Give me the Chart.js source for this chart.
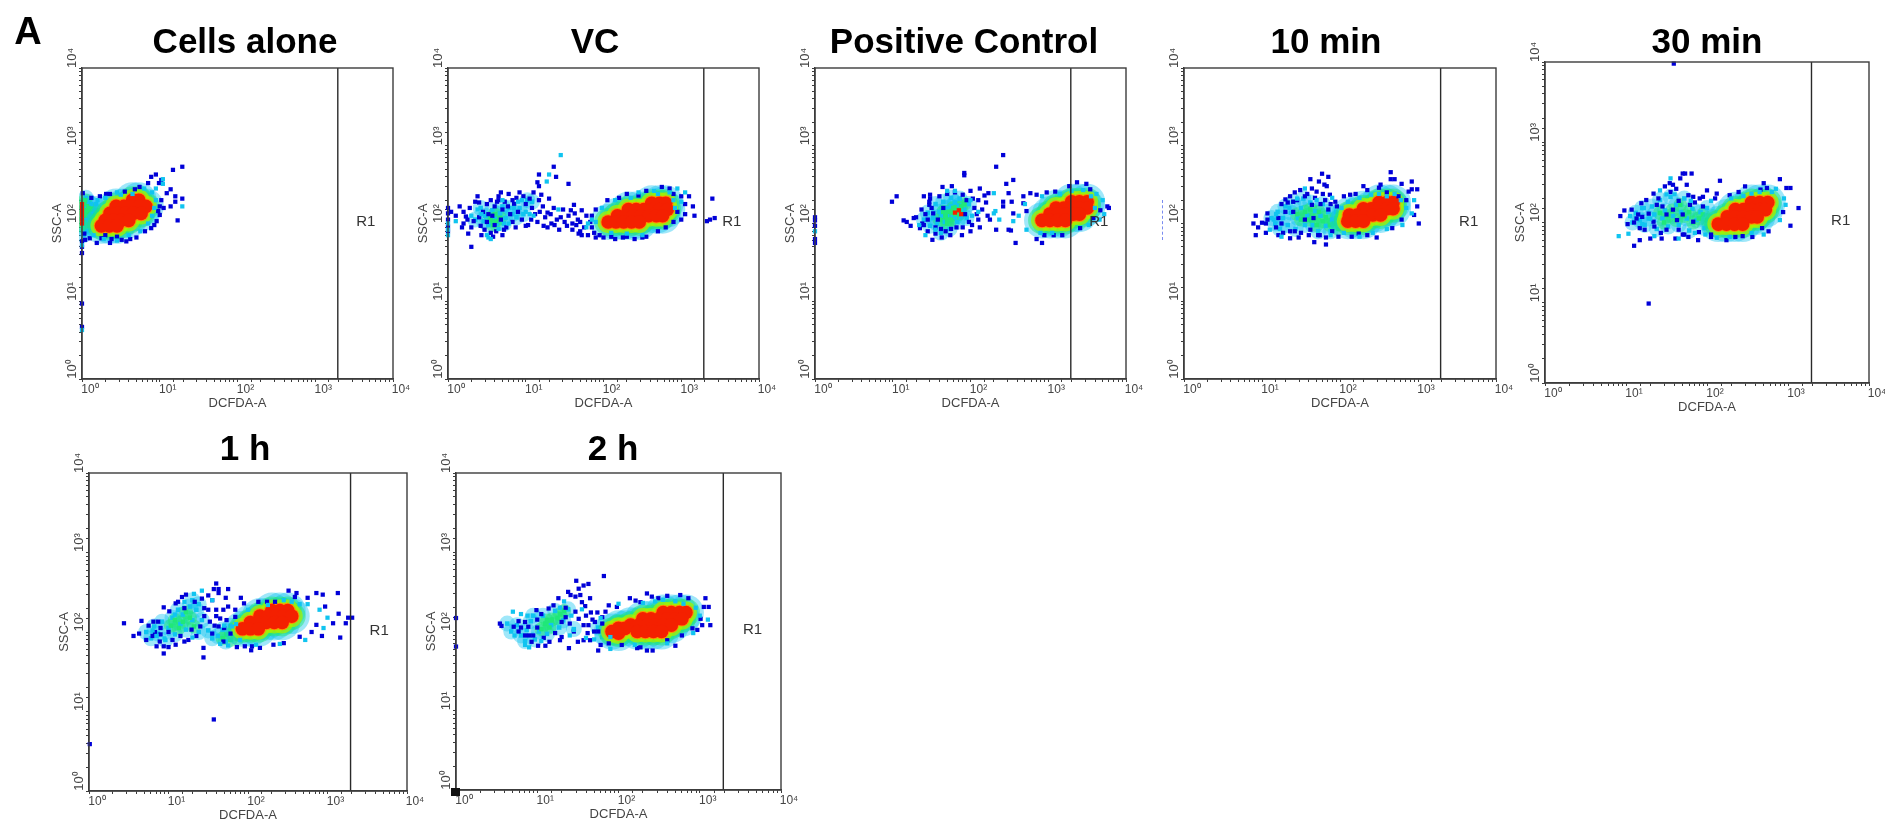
<!DOCTYPE html>
<html><head><meta charset="utf-8">
<script src="https://cdn.jsdelivr.net/npm/chart.js@4"></script>
<style>
html,body{margin:0;padding:0;background:#fff;}
#stage{position:relative;width:1885px;height:824px;overflow:hidden;background:#fff;filter:blur(.45px);}
canvas{position:absolute;}
.t{position:absolute;font:bold 35px "Liberation Sans",Arial,sans-serif;color:#000;transform:translate(-50%,-50%);white-space:nowrap;}
</style></head><body><div id="stage"></div>
<script>
const panelTitles=["Cells alone","VC","Positive Control","10 min","30 min","1 h","2 h"];
const decadeLabels=["10⁰","10¹","10²","10³","10⁴"];
const xAxisLabel="DCFDA-A", yAxisLabel="SSC-A", gateLabel="R1";
const gateDecade=3.29, gateLabelX=3.65, gateLabelY=2.02;

const cellsBlue=[1.29,2.73,1.17,2.69,.95,2.63,.89,2.6,.99,2.52,1.02,2.56,1.14,2.44,1.2,2.35,1.29,2.32,1.2,2.28,1.14,2.22,1.23,2.04,.04,1.79,.1,1.81,.19,1.75,.25,1.81,.36,1.75,.38,1.8,.51,1.79,.57,1.77,.7,1.82,.81,1.9,.89,1.94,.96,2.03,1,2.11,1,2.22,1.02,2.3,1.09,2.39,.01,2.39,.12,2.33,.23,2.35,.31,2.38,.36,2.38,.55,2.41,.68,2.44,.74,2.47,.85,2.52,0,1.77,0,1.7,0,1.62,0,.97,0,.67,.93,1.98,.98,2.16,.03,1.87,.3,1.85,.45,1.83,.62,1.8,1.05,2.2];
const cellsCyan=[1.29,2.22,1.04,2.51,1.04,2.57,.45,2.4,.95,2.45,.9,2.4,.8,2.45,.75,1.9,.85,2,.9,2.1,.95,2.3,.15,1.85,.28,1.8,.45,1.78,0,1.72,0,.63,.6,1.85,.2,2.3,.3,2.33,.5,2.37,.65,2.38,.93,2.2];
const cellsHazeCyan=[.02,1.85,.06,1.9,.05,2.05,.06,2.2,.05,2.33,.1,1.95,.12,2.25,.15,2.12,.17,1.92,.18,2.25,.08,2.28,.14,2.02];
const cellsHazeGreen=[.03,1.95,.03,2.02,.03,2.1,.03,2.17,.03,2.25,.08,2.1,.1,2.04,.12,2.18,.08,1.97,.08,2.2,.14,2.1,.15,2,.17,2.17,.04,2.3];
const cellsRed=[0,2,0,2.05,0,2.1,0,2.15,0,2.2,0,2.25];
const cellsCore=[.65,2.3,.73,2.3,.44,2.22,.54,2.22,.64,2.22,.74,2.22,.82,2.22,.36,2.13,.46,2.13,.56,2.13,.66,2.13,.76,2.13,.3,2.04,.4,2.04,.5,2.04,.6,2.04,.25,1.97,.35,1.97,.45,1.97];

const vcBlue=[0,2.2,0,2.13,0,2.05,0,1.96,0,1.9,.04,2.15,1.36,2.73,1.17,2.63,1.39,2.6,1.15,2.53,1.17,2.48,1.55,2.51,.3,1.7,.2,2.15,.2,2,.23,2.09,.3,1.95,.28,2.2,.33,2.03,.35,2.28,.4,2.27,.4,2.08,.42,1.97,.45,2.15,.47,1.92,.5,2.25,.5,2.02,.55,2.3,.55,1.88,.57,2.1,.6,1.98,.6,2.22,.62,1.9,.65,2.35,.65,2.3,.68,2.05,.7,1.85,.7,2.18,.73,2.28,.75,1.95,.78,2.38,.8,2.12,.83,2.02,.85,2.25,.88,2.33,.9,2.15,.95,2.05,.97,2.35,1,2.25,1.03,1.98,1.05,2.32,1.08,2.2,1.1,2.4,1.12,2.12,1.15,2.02,1.17,2.3,1.2,2.37,1.22,2.22,1.25,2.08,1.28,1.95,1.28,2.14,1.3,2.32,1.33,2,1.36,2.2,1.4,2.05,1.45,2.08,1.5,2.02,1.55,2.1,1.6,2,1.63,2.13,1.67,2.05,1.7,1.9,1.72,2.17,1.78,2.1,1.6,1.92,1.65,1.98,1.7,2.02,1.72,1.85,1.8,1.85,1.85,1.95,1.85,2.1,1.9,2.18,1.9,1.82,1.95,1.85,2,1.82,2.05,2.3,2.1,1.83,2.15,1.8,2.2,2.33,2.25,1.82,2.3,1.83,2.3,2.38,2.4,1.8,2.45,2.36,2.5,1.82,2.55,2.42,2.55,1.83,2.7,1.9,2.75,2.47,2.8,1.95,2.85,2.45,2.9,2.02,2.9,2.38,2.95,2.15,3,2.35,3,2.05,3.05,2.25,3.05,2.12,3.1,2.35,3.15,2.22,3.17,2.1,3.4,2.32,3.43,2.07,3.33,2.03,3.37,2.05,.1,2.1,.15,2.22,.18,1.95,.25,2.05,.26,1.87,.38,2.35,.43,1.85,.52,2.12,.58,1.83,.63,2.28,.68,2.4,.72,1.92,.77,2.22,.83,2.3,.87,1.95,.92,2.4,1,1.97,1.07,2.05,1.18,2.15,1.23,1.97,1.32,2.12,1.37,1.98,1.43,1.92,1.48,2.18,1.53,1.97,1.58,2.17,1.62,2.24,1.68,1.87,1.75,1.95,1.83,2.02,1.88,1.88];
const vcCyan=[1.45,2.88,1.3,2.63,1.27,2.54,0,2,0,1.92,0,1.85,.1,2.03,.3,2.1,.38,2.18,.43,2.12,.5,1.85,.52,1.82,.55,1.8,.65,1.93,.7,2.3,.78,2,.85,2.2,.9,2.28,.95,2.3,1,2.15,1.05,2.12,1.1,2.1,1.42,2.18,1.8,2,1.85,2.05,1.9,2.02,1.78,1.95,2.5,1.85,2.3,1.87,2.9,2.3,2.95,2.45,3,2.28,3.05,2.4,2.85,2.4,2.65,2.42,2.45,2.4,2.7,2.38,2.35,2.33,2.15,2.3,1.98,2.2,2.1,1.88,2.92,2.2];
const vcHazeCyan=[.35,2.05,.42,2.2,.48,2.1,.52,1.98,.57,2.17,.63,2,.67,2.13,.7,2.22,.74,2.07,.79,2.2,.83,2.12,.88,2.08,.92,2.2,.97,2.12,1.02,2.3,1.08,2.28,.6,2.08,.46,2.03,.72,2];
const vcHazeGreen=[.55,2.05,.6,2.12,.62,2.03,.67,2.07,.58,1.98];
const vcRed=[];
const vcCore=[2.62,2.26,2.72,2.26,2.8,2.26,2.32,2.18,2.42,2.18,2.52,2.18,2.62,2.18,2.72,2.18,2.82,2.18,2.18,2.1,2.28,2.1,2.38,2.1,2.48,2.1,2.58,2.1,2.68,2.1,2.76,2.1,2.06,2.02,2.16,2.02,2.26,2.02,2.36,2.02,2.46,2.02];

const posBlue=[2.42,2.88,2.33,2.73,1.92,2.65,1.92,2.62,2.55,2.56,2.46,2.51,1.05,2.35,.99,2.28,1.64,2.47,1.76,2.48,1.4,2.35,1.48,2.37,1.48,2.32,1.14,2.04,1.18,2.02,1.23,1.97,1.27,2.07,1.37,2.18,1.35,1.94,1.51,1.79,1.63,1.82,1.74,1.85,1.89,1.85,1.4,1.98,1.47,2.28,1.47,2.24,2.12,2.45,2.23,2.39,2.25,2.05,2.33,1.92,2.42,2.28,2.42,2.22,2.49,2.39,2.53,2.28,2.55,2.13,2.49,1.92,2.52,1.91,2.58,1.75,2.68,2.35,2.77,2.39,2.68,2.26,2.72,2.16,2.85,2.37,2.98,2.4,2.85,1.8,2.92,1.75,3.09,2.41,3.27,2.48,3.37,2.53,3.49,2.51,3.54,2.44,3.76,2.22,3.67,2.17,3.78,2.2,3.41,1.94,3.18,1.85,3.07,1.85,2.95,1.85,3.58,2.07,0,2.08,0,2.04,0,1.8,0,1.75,0,1.97,1.45,2.05,1.5,2.2,1.55,1.95,1.6,2.35,1.62,1.93,1.7,2.38,1.75,1.93,1.8,2.4,1.9,2.37,1.95,2.3,2,2.42,2.02,1.98,2.05,2.2,2.1,2.3,2.1,2.05,2.15,2.18,2.18,2.36,2.2,2.27,2.22,2.1,1.42,2.12,1.3,2.08,1.38,2,1.45,1.9,1.55,1.87,1.9,1.95,2,1.9,2.12,1.95,1.52,2.13,1.58,2.05,1.65,2.2,1.68,1.9,1.82,1.95,1.93,2.12,1.98,2.02,2.03,2.32,2.08,2.12];
const posCyan=[2.3,2.39,1.8,2.42,1.7,2.42,0,1.9,1.34,1.98,1.42,1.85,1.55,1.92,2.3,2.13,2.37,2.05,2.32,2.16,2.02,2.1,2,2.3,2.1,2.15,2.55,2.03,2.72,1.92,2.9,1.88,3.05,1.88,3.3,2.42,3.55,2.35,3.62,2.38,3.7,2.3,3.72,2.12,3.66,2.05,2.62,2.1,2.7,2.25,2.92,2.35,3.15,2.38,3.45,2.43,3.6,2.2,3.52,1.98];
const posHazeCyan=[1.4,2.05,1.45,2.14,1.48,1.97,1.52,2.07,1.55,2.25,1.57,2,1.6,2.15,1.62,1.88,1.65,2.28,1.67,2.02,1.7,2.2,1.73,1.93,1.75,2.33,1.77,2.1,1.8,2.27,1.83,2.02,1.86,2.32,1.88,2.08,1.92,2.18,1.95,2.07,1.98,2.25,1.62,2.1,1.7,2.1,1.8,2.08,1.85,2.23,1.75,2.22];
const posHazeGreen=[1.6,2.05,1.65,2.15,1.7,2.05,1.72,2.15,1.75,2.05,1.78,2.2,1.8,2.12,1.83,2.18,1.85,2.12,1.88,2.22,1.7,2,1.92,2.25,1.77,2.14,1.68,2.1];
const posRed=[1.85,2.17,1.8,2.14,1.88,2.12];
const posCore=[3.3,2.28,3.4,2.28,3.5,2.28,3.1,2.2,3.2,2.2,3.3,2.2,3.4,2.2,3.5,2.2,3.02,2.12,3.12,2.12,3.22,2.12,3.32,2.12,3.4,2.12,2.92,2.04,3.02,2.04,3.12,2.04,3.22,2.04];

const tenBlue=[2.65,2.66,2.65,2.57,2.7,2.57,2.79,2.51,2.92,2.54,2.92,2.44,2.99,2.44,2.88,2.41,2.52,2.5,2.5,2.46,2.3,2.48,2.35,2.43,2.2,2.38,2.13,2.37,3.01,2,2.95,2.11,2.99,2.22,2.79,2.05,2.67,1.94,2.47,1.82,2.35,1.85,2.24,1.87,2.15,1.83,1.98,1.83,1.82,1.73,1.82,1.82,1.67,1.76,1.47,1.82,1.36,1.9,1.36,1.81,1.21,1.85,.92,1.85,1.05,1.88,.89,2,1,2.01,.92,2.1,1.07,2.13,1.07,2.05,1.21,2.07,1.3,2.31,1.36,2.35,1.42,2.4,1.49,2.43,1.62,2.57,1.73,2.54,1.77,2.64,1.85,2.6,1.8,2.5,1.83,2.48,1.64,2.45,1.7,2.41,1.81,2.3,1.94,2.28,1.96,2.22,1.87,2.37,1.64,2.24,1.66,2.07,1.62,1.92,1.74,1.85,1.42,1.9,1.25,2,1.3,2.15,1.4,2.28,1.55,2.35,1.75,2.25,1.85,2.18,1.6,1.85,1.9,1.9,2.05,2.35,2.6,2.4,2.75,2.35,2.85,2.3,1.18,1.95,1.27,1.88,1.33,2.27,1.45,2.3,1.5,1.88,1.58,2.38,1.68,2.33,1.72,1.85,1.78,2.38,1.88,2.25,1.55,2.05,1.25,2.25,1.4,2.15,1.05,2,.95,1.95];
const tenCyan=[1.15,2.05,1.18,2.12,1.25,1.83,1.1,1.92,1.55,2.45,1.45,2.32,1.35,2.2,1.7,2.3,1.9,2.33,2.25,2.33,2.4,2.37,2.6,2.35,2.85,2.2,2.95,2.3,2.92,2.13,2.8,1.98,2.6,1.93,2.05,1.88,2.25,1.83,1.88,1.85,2.7,2.38,2.78,2.3,2.5,2.38,2.42,1.88,2.1,2.28,2.02,2.2];
const tenHazeCyan=[1.12,2.07,1.17,2,1.2,2.15,1.23,1.93,1.27,2.07,1.3,2.22,1.33,1.98,1.37,2.14,1.4,2.28,1.43,1.93,1.46,2.07,1.5,2.2,1.53,2.32,1.55,1.98,1.58,2.1,1.62,2.27,1.65,1.98,1.68,2.16,1.72,1.9,1.75,2.1,1.78,2.25,1.82,1.97,1.85,2.15,1.88,1.9,1.9,2.05,1.95,2.15];
const tenHazeGreen=[1.45,2.12,1.5,2.05,1.55,2.15,1.6,2.05,1.62,2.18,1.67,2.07,1.7,1.98,1.73,2.15,1.78,2.03,1.82,2.08,1.87,1.98,1.92,2,1.95,2.07,1.98,1.93];
const tenRed=[];
const tenCore=[2.5,2.27,2.6,2.27,2.68,2.27,2.3,2.19,2.4,2.19,2.5,2.19,2.6,2.19,2.68,2.19,2.12,2.11,2.22,2.11,2.32,2.11,2.42,2.11,2.52,2.11,2.1,2.03,2.2,2.03,2.3,2.03];

const thirtyBlue=[1.59,3.98,1.28,.99,1.7,2.61,1.73,2.61,1.81,2.61,1.67,2.55,2.16,2.52,2.47,2.45,2.7,2.49,2.9,2.54,2.66,2.41,2.74,2.43,2.98,2.43,3.03,2.43,2.39,2.38,2.28,2.34,2.12,2.36,2,2.4,3.13,2.18,3.03,1.96,2.94,2.13,2.76,1.89,2.68,1.93,2.56,1.82,2.44,1.83,2.35,1.82,2.24,1.78,1.89,1.78,1.77,1.82,1.61,1.8,1.44,1.8,1.3,1.8,1.1,1.71,1.17,1.78,.93,2.08,.98,2.15,1.07,2.16,1.13,2.05,1.19,2.24,1.25,2.28,1.34,2.36,1.48,2.45,1.54,2.49,1.58,2.47,1.75,2.47,1.77,2.34,1.83,2.32,1.91,2.3,1.79,2.22,1.58,2.16,1.63,2.03,1.28,2.11,1.34,2.01,1.17,1.93,1.23,1.91,1.83,2.01,1.65,1.91,1.5,1.91,1.4,2.3,1.15,2.1,1.1,2,1.45,2.2,1.7,2.1,1.95,2.2,1.72,1.85,1.9,1.88,2.05,1.82,2.1,2.3,1.2,2.07,1.38,2.22,1.43,1.87,1.55,2.38,1.62,2.42,1.7,1.85,1.85,2.25,1.95,2.32,2.05,1.85,1.5,2.1,1.35,1.95,1.02,1.98,1.65,2.27];
const thirtyCyan=[.91,1.83,1.03,1.86,1.2,1.98,1.22,2.18,1.3,2.05,1.35,1.83,1.5,2.35,1.55,2.55,1.42,2.4,1.6,2.35,1.8,2.27,2.05,2.27,2.3,2.3,2.55,2.36,2.85,2.42,2.95,2.3,2.97,2.22,2.9,2.03,2.7,1.85,2.28,1.82,2.12,1.81,1.05,2.08,1.65,1.8,1.85,1.87,2.65,2.38,2.8,2.38,2.45,2.33,2.55,1.87,1.98,1.85];
const thirtyHazeCyan=[1.08,2,1.12,2.12,1.17,2.03,1.2,2.18,1.23,1.97,1.28,2.05,1.32,2.2,1.35,2.1,1.38,1.92,1.42,2.28,1.45,2.05,1.48,2.15,1.52,1.95,1.55,2.32,1.58,2.08,1.62,2.22,1.65,1.97,1.68,2.13,1.72,2.3,1.75,2.05,1.78,1.9,1.82,2.17,1.87,2.03,1.92,2.13,1.97,1.93,2,2.18];
const thirtyHazeGreen=[1.42,2.12,1.47,2,1.52,2.08,1.57,2.15,1.62,2.03,1.67,2.22,1.72,2.08,1.78,2.13,1.83,2,1.9,2.05,1.95,2.1,2,2.03,2.02,1.95,2.07,2.08,2.05,2];
const thirtyRed=[];
const thirtyCore=[2.55,2.25,2.65,2.25,2.75,2.25,2.35,2.16,2.45,2.16,2.55,2.16,2.65,2.16,2.72,2.16,2.25,2.07,2.35,2.07,2.45,2.07,2.55,2.07,2.62,2.07,2.14,1.98,2.24,1.98,2.34,1.98,2.44,1.98];

const oneBlue=[.44,2.11,.66,2.14,.63,1.98,.56,1.95,.75,2.08,.81,2.13,.87,2.13,.83,2,.89,1.88,.85,1.82,.94,1.73,.94,1.82,1,1.81,1.09,1.84,1.25,1.9,1.44,1.8,1.44,1.68,.94,2.31,1.01,2.26,1.09,2.36,1.17,2.44,1.22,2.47,1.33,2.38,1.42,2.42,1.5,2.46,1.6,2.61,1.57,2.54,1.63,2.54,1.75,2.54,1.63,2.49,1.72,2.43,1.91,2.43,1.69,2.28,1.65,2.17,1.73,2.15,1.84,2.28,1.63,2.07,1.52,2.13,1.4,2.07,1.29,2.03,1.5,2.28,2.05,1.82,2.04,1.77,2.15,1.8,2.32,1.84,2.51,2.52,2.61,2.49,2.59,2.44,2.86,2.49,2.94,2.47,3.13,2.49,2.97,2.32,3.14,2.23,3.26,2.18,3.31,2.18,3.23,2.11,3.07,2.11,3.16,1.93,2.93,1.95,2.86,2.09,2.8,2,2.65,1.94,2.45,1.86,2.24,2.38,2.13,2.38,2.34,2.38,1.96,1.82,1.86,1.81,1.69,1.88,1.84,2.19,1.57,.9,.01,.59,.9,2.05,1,2,1.15,1.95,1.2,2.3,1.45,2.2,1.55,1.98,1.6,2.2,1.95,2.36,2.75,2.43,.8,1.95,.9,1.97,1.05,1.9,1.12,2.38,1.2,1.88,1.35,1.95,1.45,2.3,1.55,2.4,1.58,2.08,1.6,2.28,1.75,2.32,1.7,2.05,1.78,1.98,.72,1.9];
const oneCyan=[.85,1.95,.95,1.92,1.08,2.22,1.2,2.38,1.32,2.48,1.42,2.52,1.55,2.4,1.7,2.08,1.8,2.07,1.65,1.85,1.75,1.83,2,2.28,2.45,2.4,2.55,2.38,2.75,2.35,2.9,2.28,3,2.18,2.95,2.05,2.72,1.9,2.4,1.85,2.1,1.84,.8,2.02,1.3,1.93,2.25,2.34,2.65,2.35,1.85,2.1,1.9,1.9];
const oneHazeCyan=[.72,2,.78,1.92,.82,2.07,.87,1.98,.92,2.13,.96,1.9,1,2.05,1.05,2.18,1.08,1.97,1.12,2.28,1.15,2.1,1.18,2.22,1.22,2.03,1.27,2.32,1.3,2.15,1.35,2.28,1.38,2,1.42,2.15,1.5,2.02,1.55,1.92,1.62,1.95,1.68,2.03,1.72,1.88,1.78,2.08,1.82,1.98,1.3,2.4,1.38,2.35];
const oneHazeGreen=[1.03,2.08,1.08,2.15,1.13,2.05,1.18,2.13,1.22,2.25,1.27,2.18,1.32,2.07,1.68,1.92,1.73,1.97,1.78,1.9,1.83,2.05,1.87,1.92];
const oneRed=[];
const oneCore=[2.3,2.27,2.4,2.27,2.5,2.27,2.15,2.2,2.25,2.2,2.35,2.2,2.45,2.2,2.55,2.2,2.03,2.12,2.13,2.12,2.23,2.12,2.33,2.12,2.43,2.12,1.93,2.04,2.03,2.04,2.13,2.04];

const twoBlue=[1.82,2.7,1.48,2.64,1.63,2.6,1.57,2.58,1.51,2.54,1.38,2.5,1.41,2.46,1.47,2.44,1.53,2.46,1.55,2.37,1.26,2.42,1.65,2.42,1.59,2.32,1.47,2.25,1.51,2.16,1.57,2.08,1.74,2.24,1.66,2.24,.54,2.1,.56,2.07,.71,2.06,.77,2.13,.85,2.12,.77,2,.89,2.06,.95,1.95,.93,1.87,1.01,1.82,1.1,1.82,1.39,1.79,1.28,1.89,.99,2.27,1.14,2.29,1.2,2.33,1.75,1.76,1.78,1.83,1.88,1.85,2.04,1.83,2.23,1.79,2.27,1.8,2.35,1.76,2.42,1.76,2.7,1.82,2.6,1.89,2.78,1.95,2.91,2.04,2.97,2.02,3.03,2.08,3.13,2.08,3.01,2.16,3.07,2.42,3.11,2.31,3.05,2.31,2.76,2.46,2.86,2.42,2.6,2.45,2.49,2.42,2.35,2.48,2.41,2.44,2.14,2.42,2.21,2.39,2.27,2.37,1.98,2.31,1.88,2.33,1.84,2.25,1.71,2.12,1.63,2.08,1.57,1.89,1.65,1.89,0,2.17,0,1.81,.85,1.95,1,2.05,1.05,2.22,1.3,2.12,1.4,2.1,1.35,2.3,1.62,1.98,1.7,2,1.8,2.18,.8,2.05,.9,1.95,1,2.15,1.08,1.92,1.15,1.87,1.22,1.98,1.3,1.93,1.35,2.18,1.45,2,1.6,2.2,1.68,2.15,1.75,2,1.8,2.1,1.5,1.87];
const twoCyan=[.7,2.25,.8,2.22,.88,2.2,.72,1.95,.85,1.83,.9,1.8,1.05,1.88,1.28,2.3,1.33,2.38,1.42,2.2,1.55,2.28,1.4,1.95,1.45,2.02,1.6,1.92,1.7,1.9,1.78,2.17,2,2.35,2.3,2.36,2.55,2.4,2.8,2.35,2.95,2.3,3,2.2,2.92,1.98,2.6,1.85,2.2,1.83,1.9,1.78,3.1,2.15,1.9,1.93,2.45,2.38,2.7,2.38];
const twoHazeCyan=[.68,2,.75,2.08,.8,1.95,.87,2.02,.92,2.13,.97,1.9,1.02,2,1.07,2.2,1.12,1.97,1.17,2.08,1.22,2.26,1.27,2.05,1.32,2.14,1.38,2.28,.95,2.2,.85,1.88,.63,2.1,1.45,2.03,1.75,2.05,1.8,1.93];
const twoHazeGreen=[1.05,2.03,1.1,2.1,1.15,2.05,1.18,2.15,1.25,2.17,1.28,2.22,1.33,2.26,1.12,2.14];
const twoRed=[];
const twoCore=[2.55,2.24,2.65,2.24,2.75,2.24,2.83,2.24,2.3,2.16,2.4,2.16,2.5,2.16,2.6,2.16,2.7,2.16,2.78,2.16,2.15,2.08,2.25,2.08,2.35,2.08,2.45,2.08,2.55,2.08,2.65,2.08,2.23,2,2.33,2,2.43,2,2.53,2,2,2.04,2.08,2.04,1.92,2,2,1.98];

// layout of the seven plots on the page (plot area edges, title centre)
const plotLeft=[82,447.5,815,1184,1545,88.7,456];
const plotRight=[393,758.5,1126,1495.5,1869,407,780.6];
const plotTop=[68,68,68,68,62,473,473];
const plotBottom=[379,379,379,379,383,791,790];
const titleCx=[245,595,964,1326,1707,245,613];
const titleCy=[41,41,41,41,41,448,448];
const showYTitle=[true,true,true,false,true,true,true];

const seriesByPanel=[
 [cellsBlue,cellsCyan,cellsHazeCyan,cellsHazeGreen,cellsRed,cellsCore],
 [vcBlue,vcCyan,vcHazeCyan,vcHazeGreen,vcRed,vcCore],
 [posBlue,posCyan,posHazeCyan,posHazeGreen,posRed,posCore],
 [tenBlue,tenCyan,tenHazeCyan,tenHazeGreen,tenRed,tenCore],
 [thirtyBlue,thirtyCyan,thirtyHazeCyan,thirtyHazeGreen,thirtyRed,thirtyCore],
 [oneBlue,oneCyan,oneHazeCyan,oneHazeGreen,oneRed,oneCore],
 [twoBlue,twoCyan,twoHazeCyan,twoHazeGreen,twoRed,twoCore]];

const C={blue:'#0000d8',cyan:'#10c4f0',green:'#20e878',lime:'#a8f000',orange:'#ff9000',red:'#f42000',ink:'#3c3c3c',text:'#444',
  softCyan:'rgba(16,196,240,.4)',softGreen:'rgba(32,232,120,.5)',softLime:'rgba(168,240,0,.75)'};
const W=32,H=32,T=26,R=24;
const toPoints=flat=>{const out=[];for(let i=0;i<flat.length;i+=2)out.push({x:10**flat[i],y:10**flat[i+1]});return out;};
const layer=(data,color,radius,style)=>({type:'scatter',data:toPoints(data),pointStyle:style,pointRadius:radius,pointBackgroundColor:color,pointBorderWidth:0,clip:3});

const framePlugin={id:'frame',afterDatasetsDraw(c){
  const a=c.chartArea,g=c.ctx;g.save();
  g.strokeStyle=C.ink;g.lineWidth=1.4;g.strokeRect(a.left,a.top,a.right-a.left,a.bottom-a.top);
  g.fillStyle='#333';g.font='15px "Liberation Sans",Arial,sans-serif';g.textAlign='center';g.textBaseline='middle';
  g.fillText(gateLabel,c.scales.x.getPixelForValue(10**gateLabelX),c.scales.y.getPixelForValue(10**gateLabelY));
  g.restore();}};

const stage=document.getElementById('stage');
Chart.defaults.font.family='"Liberation Sans",Arial,sans-serif';
panelTitles.forEach((title,i)=>{
  const [blue,cyan,hazeC,hazeG,red,core]=seriesByPanel[i];
  const pw=plotRight[i]-plotLeft[i],ph=plotBottom[i]-plotTop[i];
  const cv=document.createElement('canvas');
  cv.width=Math.round(W+pw+R);cv.height=Math.round(T+ph+H);
  cv.style.left=(plotLeft[i]-W)+'px';cv.style.top=(plotTop[i]-T)+'px';
  cv.style.width=cv.width+'px';cv.style.height=cv.height+'px';
  stage.appendChild(cv);
  const d=document.createElement('div');d.className='t';d.textContent=title;
  d.style.left=titleCx[i]+'px';d.style.top=titleCy[i]+'px';stage.appendChild(d);
  const painted=[
    layer(hazeC,C.softCyan,8,'circle'),
    layer(hazeG,C.softGreen,7,'circle'),
    layer(hazeC,C.cyan,3.2,'rect'),
    layer(hazeG,C.green,3.2,'rect'),
    layer(core,C.softCyan,18,'circle'),
    layer(core,C.softGreen,14,'circle'),
    layer(core,C.softLime,11,'circle'),
    layer(core,C.orange,7.8,'circle'),
    layer(core,C.red,6.8,'circle'),
    layer(blue,C.blue,3,'rect'),
    layer(cyan,C.cyan,3,'rect'),
    layer(red,C.red,3,'rect'),
    {type:'line',data:[{x:10**gateDecade,y:1},{x:10**gateDecade,y:1e4}],borderColor:'#2a2a2a',borderWidth:1.4,pointRadius:0,fill:false}
  ];
  painted.forEach((ds,n)=>{ds.order=painted.length-n;});
  const axisBase=(labelText,showT)=>({
    type:'logarithmic',min:1,max:10000,
    border:{display:true,color:C.ink,width:1.4},
    grid:{drawOnChartArea:false,drawTicks:true,tickLength:3,color:C.ink},
    title:{display:showT,text:labelText,color:C.text,font:{size:13},padding:0},
  });
  const decadeText=v=>{const e=Math.log10(v);return Math.abs(e-Math.round(e))<1e-9?decadeLabels[Math.round(e)]:'';};
  const chart=new Chart(cv,{data:{datasets:painted},plugins:[framePlugin],options:{
    responsive:false,animation:false,events:[],devicePixelRatio:1,
    layout:{padding:{top:T,right:R,left:0,bottom:0}},
    plugins:{legend:{display:false},tooltip:{enabled:false}},
    scales:{
      x:Object.assign(axisBase(xAxisLabel,true),{position:'bottom',
        ticks:{autoSkip:false,maxRotation:0,minRotation:0,padding:0,labelOffset:8,color:C.text,font:{size:12},callback:decadeText},
        afterFit(s){s.height=H;s.paddingLeft=0;s.paddingRight=0;}}),
      y:Object.assign(axisBase(yAxisLabel,showYTitle[i]),{position:'left',
        ticks:{autoSkip:false,minRotation:90,maxRotation:90,crossAlign:'center',padding:-3,labelOffset:-10,color:C.text,font:{size:13},callback:decadeText},
        afterFit(s){s.width=W;s.paddingTop=0;s.paddingBottom=0;}})
    }}});
  // fit the canvas so the drawn plot area lands exactly on the page position
  const a=chart.chartArea;
  chart.resize(cv.width+Math.round(pw-(a.right-a.left)),cv.height+Math.round(ph-(a.bottom-a.top)));
  const b=chart.chartArea;
  cv.style.left=(plotLeft[i]-b.left)+'px';cv.style.top=(plotTop[i]-b.top)+'px';
});
const big=document.createElement('div');big.className='t';big.textContent='A';
big.style.left='28px';big.style.top='31px';big.style.fontSize='38px';stage.appendChild(big);
// small marks outside any plot: remains of the 10 min y-axis label and the corner icon of the 2 h plot
const dash=document.createElement('div');dash.style.cssText='position:absolute;left:1162px;top:200px;height:40px;border-left:1px dashed #7a8cf0;';stage.appendChild(dash);
const icon=document.createElement('div');icon.style.cssText='position:absolute;left:451px;top:788px;width:9px;height:8px;background:#111;';stage.appendChild(icon);
</script></body></html>
